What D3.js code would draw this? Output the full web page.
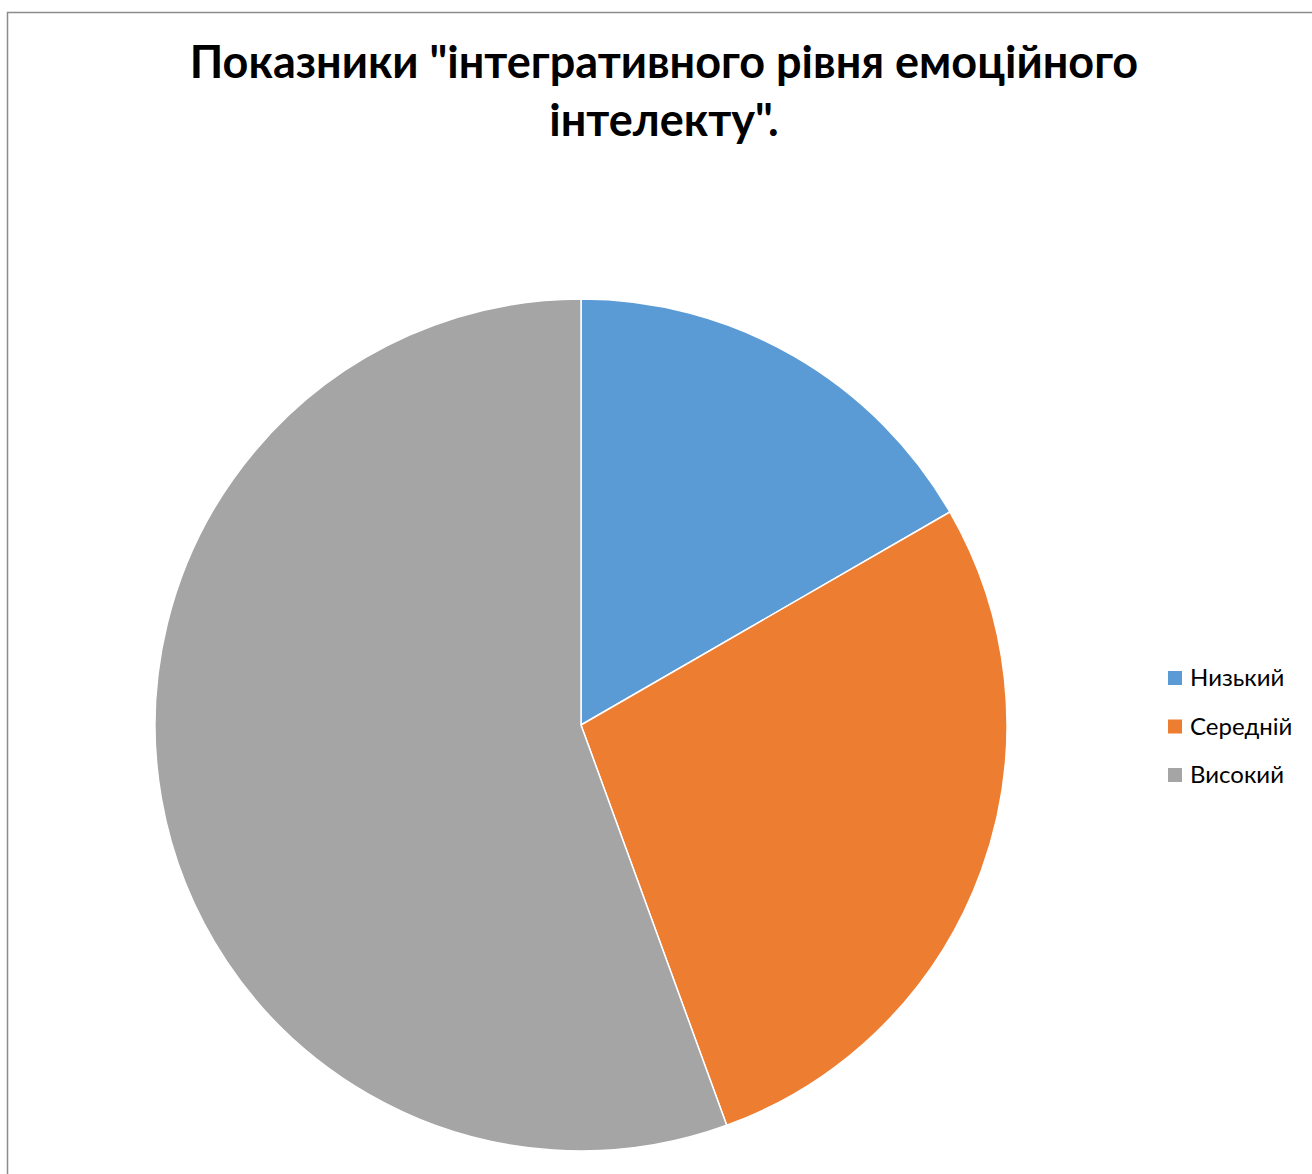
<!DOCTYPE html>
<html>
<head>
<meta charset="utf-8">
<script src="https://cdn.jsdelivr.net/npm/d3@7"></script>
<style>
  html, body { margin: 0; padding: 0; background: #fff; }
  svg { display: block; }
</style>
</head>
<body>
<svg id="chart" width="1312" height="1174"></svg>
<script>
// Integrative level of emotional intelligence: distribution by level
const categories = ["Низький", "Середній", "Високий"];
const values = [6, 10, 20];
const colors = ["#5B9BD5", "#ED7D31", "#A5A5A5"];
const titleLines = ['Показники "інтегративного рівня емоційного', 'інтелекту".'];

const svg = d3.select("#chart");
const W = 1312, H = 1174;

// chart frame
svg.append("path")
  .attr("d", `M7.5,${H} V12.5 H${W}`)
  .attr("fill", "none")
  .attr("stroke", "#8c8c8c")
  .attr("stroke-width", 1.5);

// title
const title = svg.append("text")
  .attr("text-anchor", "middle")
  .attr("font-family", "Lato, 'Open Sans', sans-serif")
  .attr("font-weight", "bold")
  .attr("font-size", 45)
  .attr("fill", "#000");
titleLines.forEach((line, i) => {
  title.append("tspan")
    .attr("x", 664)
    .attr("y", 78 + i * 58)
    .text(line);
});

// pie
const cx = 581, cy = 725, r = 426;
const pie = d3.pie().sort(null).value(d => d);
const arc = d3.arc().innerRadius(0).outerRadius(r);
const color = d3.scaleOrdinal().domain(categories).range(colors);

const g = svg.append("g").attr("transform", `translate(${cx},${cy})`);
g.selectAll("path")
  .data(pie(values))
  .join("path")
  .attr("d", arc)
  .attr("fill", (d, i) => color(categories[i]))
  .attr("stroke", "#fff")
  .attr("stroke-width", 1.5)
  .attr("stroke-linejoin", "round");

// legend
const legend = svg.append("g").attr("transform", "translate(1168,678)");
const rows = legend.selectAll("g")
  .data(categories)
  .join("g")
  .attr("transform", (d, i) => `translate(0,${i * 48.5})`);
rows.append("rect")
  .attr("x", 0).attr("y", -7)
  .attr("width", 14).attr("height", 14)
  .attr("fill", d => color(d));
rows.append("text")
  .attr("x", 22)
  .attr("dy", "0.35em")
  .attr("font-family", "Lato, 'Open Sans', sans-serif")
  .attr("font-size", 24)
  .attr("fill", "#000")
  .text(d => d);
</script>
</body>
</html>
